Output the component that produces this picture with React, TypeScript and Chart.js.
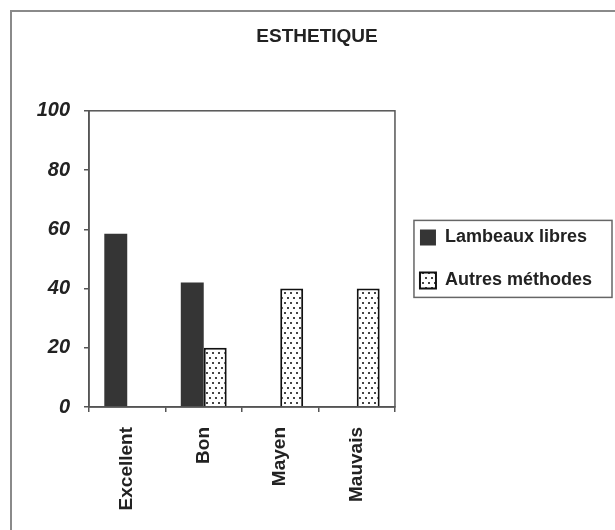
import React, { useEffect, useRef } from "react";
import { Chart, registerables } from "chart.js";

Chart.register(...registerables);

const chartTitle = "ESTHETIQUE";
const categories = ["Excellent", "Bon", "Mayen", "Mauvais"];
const seriesNames = ["Lambeaux libres", "Autres méthodes"];
const lambeauxLibres = [58.5, 42, 0, 0];
const autresMethodes = [0, 20, 40, 40];
const yMin = 0;
const yMax = 100;
const yStep = 20;

const FONT = "'Liberation Sans', Arial, Helvetica, sans-serif";

function makeDotPattern(): CanvasPattern | string {
  const c = document.createElement("canvas");
  c.width = 12;
  c.height = 10;
  const g = c.getContext("2d");
  if (!g) return "#fff";
  g.fillStyle = "#ffffff";
  g.fillRect(0, 0, 12, 10);
  g.fillStyle = "#444444";
  g.fillRect(2, 2, 2, 2);
  g.fillRect(8, 2, 2, 2);
  g.fillRect(5, 7, 2, 2);
  g.fillRect(11, 7, 1, 2);
  g.fillRect(0, 7, 1, 2);
  return g.createPattern(c, "repeat") || "#fff";
}

const framePlugin = {
  id: "frame",
  afterDraw(chart: any) {
    const { ctx, chartArea } = chart;
    ctx.save();
    ctx.strokeStyle = "#555";
    ctx.lineWidth = 1.5;
    ctx.strokeRect(chartArea.left, chartArea.top, chartArea.right - chartArea.left, chartArea.bottom - chartArea.top);
    const lg = chart.legend;
    if (lg && lg.legendHitBoxes && lg.legendHitBoxes.length) {
      const hb = lg.legendHitBoxes;
      let left = Infinity, top = Infinity, right = -Infinity, bottom = -Infinity;
      hb.forEach((h: any) => {
        left = Math.min(left, h.left);
        top = Math.min(top, h.top);
        right = Math.max(right, h.left + h.width);
        bottom = Math.max(bottom, h.top + h.height);
      });
      ctx.strokeStyle = "#666";
      ctx.lineWidth = 1.5;
      ctx.strokeRect(left - 6, top - 8, right - left + 26, bottom - top + 16);
    }
    ctx.restore();
  },
};

export default function App() {
  const ref = useRef<HTMLCanvasElement | null>(null);

  useEffect(() => {
    if (!ref.current) return;
    const pattern = makeDotPattern();
    const chart = new Chart(ref.current, {
      type: "bar",
      data: {
        labels: categories,
        datasets: [
          {
            label: seriesNames[0],
            data: lambeauxLibres,
            backgroundColor: "#353535",
            borderColor: "#2a2a2a",
            borderWidth: 0,
            barPercentage: 1,
            categoryPercentage: 0.6,
          },
          {
            label: seriesNames[1],
            data: autresMethodes,
            backgroundColor: pattern as any,
            borderColor: "#111",
            borderWidth: 2,
            barPercentage: 1,
            categoryPercentage: 0.6,
          },
        ],
      },
      options: {
        responsive: false,
        animation: false,
        layout: { padding: { left: 32, right: 13, top: 0, bottom: 0 } },
        plugins: {
          tooltip: { enabled: false },
          title: {
            display: true,
            text: chartTitle,
            color: "#222",
            font: { family: FONT, size: 19, weight: "bold" },
            padding: { top: 25, bottom: 63 },
          },
          legend: {
            display: true,
            position: "right",
            fullSize: false,
            maxWidth: 260,
            labels: {
              boxWidth: 16,
              boxHeight: 16,
              padding: 25,
              color: "#222",
              font: { family: FONT, size: 18, weight: "bold" },
            },
          },
        },
        scales: {
          x: {
            grid: { drawOnChartArea: false, tickLength: 5, color: "#555", lineWidth: 1.5, offset: true },
            border: { color: "#555", width: 1.5 },
            ticks: {
              minRotation: 90,
              maxRotation: 90,
              padding: 15,
              color: "#222",
              font: { family: FONT, size: 19, weight: "bold" },
            },
            afterFit: (s: any) => {
              s.height = 123;
            },
          },
          y: {
            min: yMin,
            max: yMax,
            grid: { drawOnChartArea: false, tickLength: 5, color: "#555", lineWidth: 1.5 },
            border: { color: "#555", width: 1.5 },
            ticks: {
              stepSize: yStep,
              padding: 14,
              color: "#222",
              font: { family: FONT, size: 20, weight: "bold", style: "italic" },
            },
            afterFit: (s: any) => {
              s.width = 57;
            },
          },
        },
      },
      plugins: [framePlugin],
    });
    return () => chart.destroy();
  }, []);

  return (
    <div
      style={{
        position: "fixed",
        left: 0,
        top: 0,
        width: 615,
        height: 530,
        overflow: "hidden",
        background: "#fff",
      }}
    >
      <div
        style={{
          position: "absolute",
          left: 10,
          top: 10,
          width: 700,
          height: 700,
          borderLeft: "2px solid #8a8a8a",
          borderTop: "2px solid #8a8a8a",
        }}
      />
      <canvas ref={ref} width={615} height={530} style={{ position: "absolute", left: 0, top: 0 }} />
    </div>
  );
}
